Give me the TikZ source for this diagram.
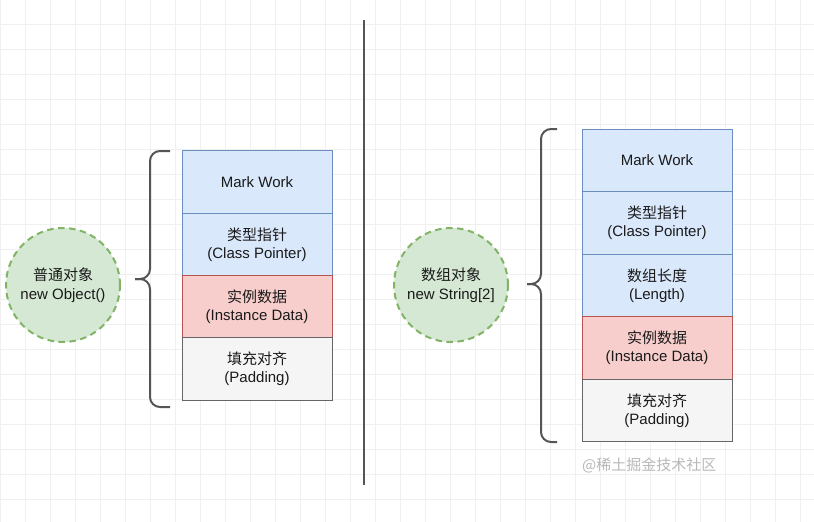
\documentclass[tikz,border=0pt]{standalone}
\usepackage{fontspec}
\setmainfont{Liberation Sans}
\newfontfamily\cjk{Noto Sans CJK SC}
\definecolor{bluefill}{HTML}{DAE8FC}
\definecolor{bluedraw}{HTML}{6C8EBF}
\definecolor{redfill}{HTML}{F8CECC}
\definecolor{reddraw}{HTML}{B85450}
\definecolor{grayfill}{HTML}{F5F5F5}
\definecolor{graydraw}{HTML}{666666}
\definecolor{greenfill}{HTML}{D5E8D4}
\definecolor{greendraw}{HTML}{82B366}
\definecolor{gridc}{HTML}{F0F0F0}
\definecolor{txt}{HTML}{1A1A1A}
\definecolor{bracec}{HTML}{555555}
\definecolor{wmark}{HTML}{B8B8B8}
\begin{document}
\begin{tikzpicture}[x=1pt,y=-1pt,
  cell/.style={draw, line width=1pt, minimum width=150pt, minimum height=62.4pt, align=center,
    font=\fontsize{15}{18}\selectfont, text=txt, inner sep=0pt},
  bluecell/.style={cell, fill=bluefill, draw=bluedraw},
  redcell/.style={cell, fill=redfill, draw=reddraw},
  graycell/.style={cell, fill=grayfill, draw=graydraw},
  objcircle/.style={circle, draw=greendraw, fill=greenfill, line width=2pt, dash pattern=on 6.5pt off 4.5pt,
    minimum size=114pt, inner sep=0pt, align=center, font=\fontsize{15}{18.5}\selectfont, text=txt},
  bracestyle/.style={draw=bracec, line width=2pt, rounded corners=10pt},
]
\useasboundingbox (0,0) rectangle (814,522);
\fill[white] (0,0) rectangle (814,522);
\foreach \gx in {0,25,...,800} \draw[gridc, line width=0.8pt] (\gx,0) -- (\gx,522);
\foreach \gy in {24.5,49.5,...,522} \draw[gridc, line width=0.8pt] (0,\gy) -- (814,\gy);

% divider
\draw[bracec, line width=2pt] (364,20) -- (364,485);

% left column
\node[bluecell] (l1) at (257,182.1) {Mark Work};
\node[bluecell] (l2) at (257,244.4) {{\cjk 类型指针}\\(Class Pointer)};
\node[redcell]  (l3) at (257,306.7) {{\cjk 实例数据}\\(Instance Data)};
\node[graycell] (l4) at (257,369.0) {{\cjk 填充对齐}\\(Padding)};
\node[objcircle] (lc) at (63,285) {{\cjk 普通对象}\\new Object()};
\path[bracestyle] (170,151) -- (150,151) -- (150,279) -- (135,279);
\path[bracestyle] (170,407) -- (150,407) -- (150,279) -- (135,279);

% right column
\node[bluecell] (r1) at (657,160.3) {Mark Work};
\node[bluecell] (r2) at (657,222.9) {{\cjk 类型指针}\\(Class Pointer)};
\node[bluecell] (r3) at (657,285.5) {{\cjk 数组长度}\\(Length)};
\node[redcell]  (r4) at (657,348.1) {{\cjk 实例数据}\\(Instance Data)};
\node[graycell] (r5) at (657,410.7) {{\cjk 填充对齐}\\(Padding)};
\node[objcircle] (rc) at (451,285) {{\cjk 数组对象}\\new String[2]};
\path[bracestyle] (557,129) -- (541,129) -- (541,284) -- (527,284);
\path[bracestyle] (557,442) -- (541,442) -- (541,284) -- (527,284);

% watermark
\node[anchor=west, inner sep=0pt, text=wmark, font=\cjk\fontsize{15}{17}\selectfont] (wm) at (582,465) {@稀土掘金技术社区};
\end{tikzpicture}
\end{document}
